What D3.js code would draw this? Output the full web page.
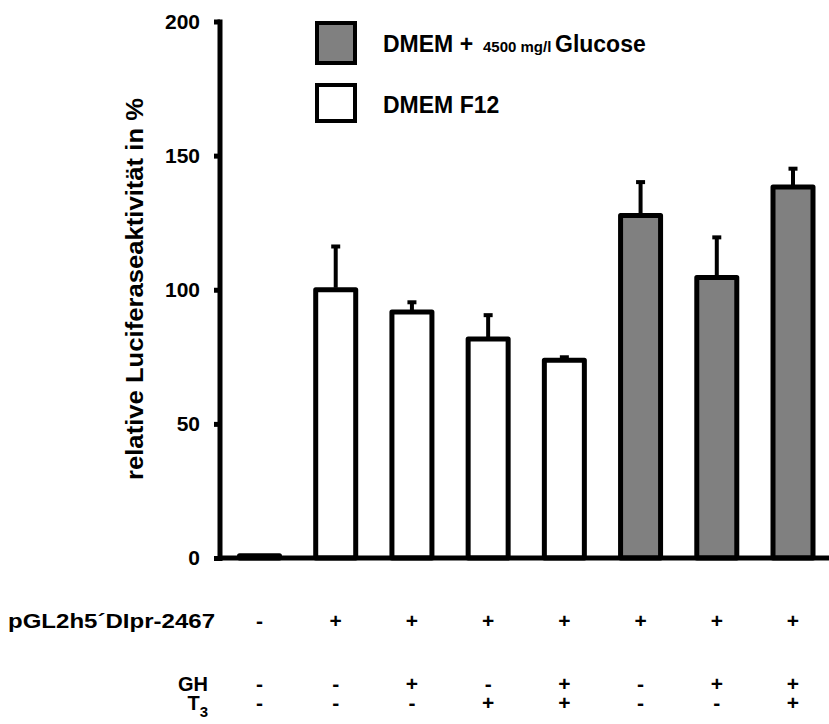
<!DOCTYPE html>
<html>
<head>
<meta charset="utf-8">
<script src="https://cdn.jsdelivr.net/npm/d3@7"></script>
<style>
  body { margin: 0; background: #fff; }
  text { font-family: "Liberation Sans", Arial, sans-serif; font-weight: bold; fill: #000; }
</style>
</head>
<body>
<div id="chart"></div>
<script>
// data
const groups = ['c1', 'c2', 'c3', 'c4', 'c5', 'c6', 'c7', 'c8'];
const values = [0.8, 100, 91.7, 81.6, 73.7, 127.7, 104.6, 138.3];
const errors = [0, 16.5, 4, 9.3, 1.5, 12.8, 15.3, 7.2];
const medium = ['F12', 'F12', 'F12', 'F12', 'F12', 'Glc', 'Glc', 'Glc'];
const rowPlasmid = ['-', '+', '+', '+', '+', '+', '+', '+'];
const rowGH = ['-', '-', '+', '-', '+', '-', '+', '+'];
const rowT3 = ['-', '-', '-', '+', '+', '-', '-', '+'];
const yTicks = [0, 50, 100, 150, 200];

const width = 829;
const height = 724;

const svg = d3.select('#chart')
  .append('svg')
  .attr('width', width)
  .attr('height', height);

const y = d3.scaleLinear().domain([0, 200]).range([558, 21.5]);
const x = d3.scalePoint().domain(groups).range([259.5, 793]);
const barW = 40;
const fill = { F12: '#ffffff', Glc: '#808080' };

// bars
svg.selectAll('.bar')
  .data(groups)
  .join('rect')
  .attr('class', 'bar')
  .attr('x', (d) => x(d) - barW / 2)
  .attr('y', (d, i) => y(values[i]))
  .attr('width', barW)
  .attr('height', (d, i) => y(0) - y(values[i]))
  .attr('fill', (d, i) => fill[medium[i]])
  .attr('stroke', '#000')
  .attr('stroke-width', 5)
  .attr('stroke-linejoin', 'round');

// error bars (upper only)
const err = svg.selectAll('.err')
  .data(groups.filter((d, i) => errors[i] > 0))
  .join('g')
  .attr('class', 'err');

err.append('line')
  .attr('x1', (d) => x(d))
  .attr('x2', (d) => x(d))
  .attr('y1', (d) => y(values[groups.indexOf(d)]) - 2)
  .attr('y2', (d) => y(values[groups.indexOf(d)] + errors[groups.indexOf(d)]))
  .attr('stroke', '#000')
  .attr('stroke-width', 4);

err.append('rect')
  .attr('x', (d) => x(d) - 4.5)
  .attr('y', (d) => y(values[groups.indexOf(d)] + errors[groups.indexOf(d)]) - 1)
  .attr('width', 9)
  .attr('height', 4)
  .attr('fill', '#000');

// axes
const yAxis = svg.append('g')
  .attr('transform', 'translate(220,0)')
  .call(d3.axisLeft(y).tickValues(yTicks).tickSize(6).tickPadding(14));
yAxis.select('.domain').remove();
yAxis.selectAll('.tick line').attr('stroke', '#000').attr('stroke-width', 5);
yAxis.selectAll('.tick text')
  .style('font-size', '21px')
  .style('font-family', '"Liberation Sans", Arial, sans-serif')
  .style('font-weight', 'bold')
  .attr('fill', '#000');

svg.append('line')
  .attr('x1', 220).attr('x2', 220)
  .attr('y1', y(200) - 2).attr('y2', y(0) + 3)
  .attr('stroke', '#000').attr('stroke-width', 5);

svg.append('line')
  .attr('x1', 218).attr('x2', 829)
  .attr('y1', y(0)).attr('y2', y(0))
  .attr('stroke', '#000').attr('stroke-width', 5);

// y label
svg.append('text')
  .attr('transform', 'translate(143,289) rotate(-90)')
  .attr('text-anchor', 'middle')
  .attr('textLength', 382)
  .attr('lengthAdjust', 'spacingAndGlyphs')
  .style('font-size', '24px')
  .text('relative Luciferaseaktivität in %');

// legend
const legend = svg.append('g');
legend.append('rect')
  .attr('x', 317).attr('y', 23).attr('width', 38).attr('height', 40)
  .attr('fill', fill.Glc).attr('stroke', '#000').attr('stroke-width', 4);
legend.append('rect')
  .attr('x', 317).attr('y', 85).attr('width', 38).attr('height', 36)
  .attr('fill', fill.F12).attr('stroke', '#000').attr('stroke-width', 4);

const l1 = legend.append('text').attr('y', 52).style('font-size', '23px');
l1.append('tspan').attr('x', 383).text('DMEM +');
l1.append('tspan').attr('x', 483).style('font-size', '15px').text('4500 mg/l');
l1.append('tspan').attr('x', 555).text('Glucose');

legend.append('text').attr('x', 383).attr('y', 113).style('font-size', '23px').text('DMEM F12');

// treatment table below the axis
const rows = [
  { label: 'pGL2h5´DIpr-2467', signs: rowPlasmid, y: 628, lx: 215, len: 207 },
  { label: 'GH', signs: rowGH, y: 691, lx: 208 },
  { label: 'T', signs: rowT3, y: 710, lx: 208, sub: '3' },
];

rows.forEach((r) => {
  const t = svg.append('text')
    .attr('x', r.lx)
    .attr('y', r.y)
    .attr('text-anchor', 'end')
    .style('font-size', '20px')
    .text(r.label);
  if (r.len) {
    t.attr('textLength', r.len).attr('lengthAdjust', 'spacingAndGlyphs');
  }
  if (r.sub) {
    t.append('tspan').attr('dy', 7).style('font-size', '15px').text(r.sub);
  }
  svg.selectAll(null)
    .data(groups)
    .join('text')
    .attr('x', (d) => x(d))
    .attr('y', r.y)
    .attr('text-anchor', 'middle')
    .style('font-size', '21px')
    .text((d, i) => r.signs[i]);
});
</script>
</body>
</html>
